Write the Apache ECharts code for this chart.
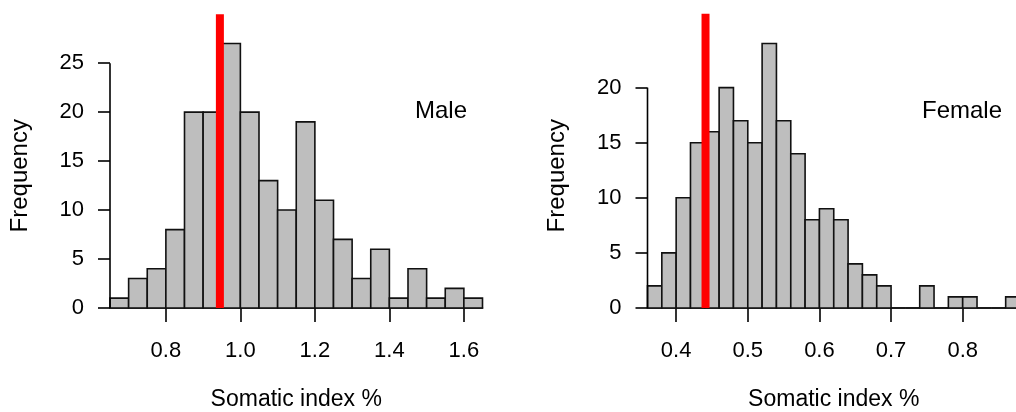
<!DOCTYPE html>
<html>
<head>
<meta charset="utf-8">
<script src="https://cdn.jsdelivr.net/npm/echarts@6/dist/echarts.min.js"></script>
<style>
  html, body { margin: 0; padding: 0; background: #fff; }
  #chart { width: 1016px; height: 412px; }
</style>
</head>
<body>
<div id="chart"></div>
<script>
// Histogram bins (left edges) and counts, somatic index %
const maleBinStarts = [0.65, 0.70, 0.75, 0.80, 0.85, 0.90, 0.95, 1.00, 1.05, 1.10,
                       1.15, 1.20, 1.25, 1.30, 1.35, 1.40, 1.45, 1.50, 1.55, 1.60];
const maleBinWidth = 0.05;
const maleCounts = [1, 3, 4, 8, 20, 20, 27, 20, 13, 10, 19, 11, 7, 3, 6, 1, 4, 1, 2, 1];

const femaleBinStarts = [0.36, 0.38, 0.40, 0.42, 0.44, 0.46, 0.48, 0.50, 0.52, 0.54,
                         0.56, 0.58, 0.60, 0.62, 0.64, 0.66, 0.68, 0.70, 0.72, 0.74,
                         0.76, 0.78, 0.80, 0.82, 0.84, 0.86];
const femaleBinWidth = 0.02;
const femaleCounts = [2, 5, 10, 15, 16, 20, 17, 15, 24, 17, 14, 8, 9, 8, 4, 3, 2, 0, 0, 2,
                      0, 1, 1, 0, 0, 1];

// Threshold lines (x position, top of segment)
const maleThreshold = 0.945;
const maleThresholdTop = 30;
const femaleThreshold = 0.441;
const femaleThresholdTop = 26.7;

// Axis ranges and tick labels
const maleXRange = [0.65, 1.65];
const femaleXRange = [0.36, 0.88];
const maleYRange = [-1.08, 28.08];
const femaleYRange = [-0.96, 24.96];
const maleXTicks = [0.8, 1.0, 1.2, 1.4, 1.6];
const femaleXTicks = [0.4, 0.5, 0.6, 0.7, 0.8];
const maleYTicks = [0, 5, 10, 15, 20, 25];
const femaleYTicks = [0, 5, 10, 15, 20];

const FONT = 'Liberation Sans, Arial, Helvetica, sans-serif';
const INK = '#000';

function binData(starts, width, counts) {
  return starts.map((s, i) => [s, +(s + width).toFixed(4), counts[i]]);
}

function renderBin(params, api) {
  const top = api.coord([api.value(0), api.value(2)]);
  const base = api.coord([api.value(1), 0]);
  return {
    type: 'rect',
    shape: { x: top[0], y: top[1], width: base[0] - top[0], height: base[1] - top[1] },
    style: { fill: '#BEBEBE', stroke: '#111', lineWidth: 1.6 }
  };
}

function xAxisFor(idx, range, ticks) {
  return {
    type: 'value', gridIndex: idx, min: range[0], max: range[1],
    name: 'Somatic index %', nameLocation: 'middle', nameGap: 70,
    nameTextStyle: { fontFamily: FONT, fontSize: 23, color: INK },
    axisLine: { show: true, onZero: true, lineStyle: { color: INK, width: 1.6 } },
    axisTick: { show: true, length: 14, customValues: ticks, lineStyle: { color: INK, width: 1.6 } },
    axisLabel: { customValues: ticks, margin: 21, fontFamily: FONT, fontSize: 22, color: INK,
                 formatter: v => Number(v).toFixed(1) },
    splitLine: { show: false }
  };
}

function yAxisFor(idx, range, ticks) {
  return {
    type: 'value', gridIndex: idx, min: range[0], max: range[1],
    name: 'Frequency', nameLocation: 'middle', nameRotate: 90, nameGap: 78,
    nameTextStyle: { fontFamily: FONT, fontSize: 24, color: INK },
    axisLine: { show: false },
    axisTick: { show: true, length: 12, customValues: ticks, lineStyle: { color: INK, width: 1.6 } },
    axisLabel: { customValues: ticks, margin: 26, fontFamily: FONT, fontSize: 22, color: INK },
    splitLine: { show: false }
  };
}

function panelSeries(idx, starts, width, counts, xRange, yTicks, thr, thrTop) {
  return [
    {
      type: 'custom', xAxisIndex: idx, yAxisIndex: idx,
      data: binData(starts, width, counts),
      renderItem: renderBin, clip: false, silent: true, z: 2
    },
    {
      // y-axis spine from the first to the last tick
      type: 'line', xAxisIndex: idx, yAxisIndex: idx,
      data: [[xRange[0], yTicks[0]], [xRange[0], yTicks[yTicks.length - 1]]],
      symbol: 'none', clip: false, silent: true, z: 3,
      lineStyle: { color: INK, width: 1.6 }
    },
    {
      type: 'line', xAxisIndex: idx, yAxisIndex: idx,
      data: [[thr, 0], [thr, thrTop]],
      symbol: 'none', clip: false, silent: true, z: 4,
      lineStyle: { color: '#FF0000', width: 8, cap: 'butt' }
    }
  ];
}

const chart = echarts.init(document.getElementById('chart'), null, { renderer: 'canvas' });
chart.setOption({
  animation: false,
  backgroundColor: '#fff',
  title: [
    { text: 'Male', left: 410, top: 94,
      textStyle: { fontFamily: FONT, fontSize: 24, fontWeight: 'normal', color: INK } },
    { text: 'Female', left: 917, top: 94,
      textStyle: { fontFamily: FONT, fontSize: 24, fontWeight: 'normal', color: INK } }
  ],
  grid: [
    { left: 110, top: 33, width: 372.5, height: 285.5, outerBoundsMode: 'none', containLabel: false },
    { left: 647.5, top: 33, width: 372.5, height: 285.5, outerBoundsMode: 'none', containLabel: false }
  ],
  xAxis: [xAxisFor(0, maleXRange, maleXTicks), xAxisFor(1, femaleXRange, femaleXTicks)],
  yAxis: [yAxisFor(0, maleYRange, maleYTicks), yAxisFor(1, femaleYRange, femaleYTicks)],
  series: [
    ...panelSeries(0, maleBinStarts, maleBinWidth, maleCounts, maleXRange, maleYTicks, maleThreshold, maleThresholdTop),
    ...panelSeries(1, femaleBinStarts, femaleBinWidth, femaleCounts, femaleXRange, femaleYTicks, femaleThreshold, femaleThresholdTop)
  ]
});
</script>
</body>
</html>
